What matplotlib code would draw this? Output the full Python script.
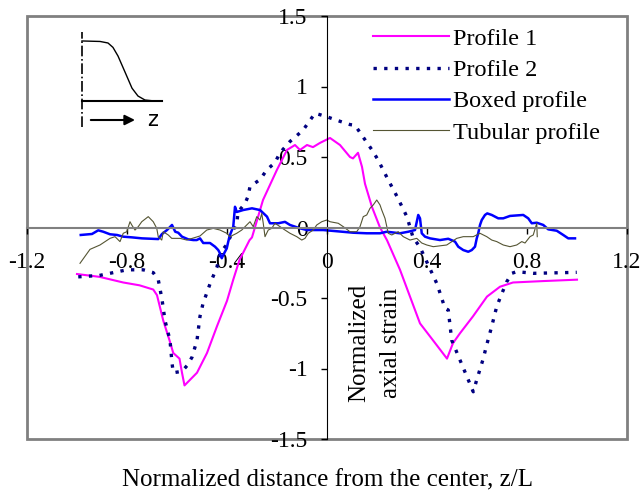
import numpy as np
import matplotlib.pyplot as plt

plt.rcParams['font.family'] = ['Liberation Serif', 'DejaVu Serif']

# Profile 1 (magenta)
p1_x = [-1.0, -0.91, -0.815, -0.75, -0.695, -0.68, -0.655, -0.63, -0.615, -0.59, -0.58, -0.57,
        -0.52, -0.48, -0.44, -0.40, -0.375, -0.35, -0.31, -0.30, -0.256, -0.20, -0.16, -0.128,
        -0.108, -0.08, -0.056, -0.028, 0.012, 0.052, 0.092, 0.104, 0.124, 0.14, 0.152, 0.18,
        0.212, 0.24, 0.292, 0.332, 0.372, 0.424, 0.48, 0.504, 0.532, 0.584, 0.64, 0.692,
        0.744, 0.864, 1.0]
p1_y = [-0.33, -0.35, -0.39, -0.41, -0.44, -0.48, -0.66, -0.80, -0.89, -0.93, -1.03, -1.12,
        -1.03, -0.89, -0.70, -0.52, -0.37, -0.23, -0.09, -0.07, 0.195, 0.41, 0.55, 0.585,
        0.55, 0.585, 0.57, 0.60, 0.635, 0.585, 0.50, 0.49, 0.53, 0.43, 0.31, 0.145,
        0.0, -0.09, -0.30, -0.49, -0.68, -0.80, -0.93, -0.82, -0.75, -0.63, -0.49, -0.42,
        -0.39, -0.38, -0.37]

# Profile 2 (navy, dotted)
p2_x = [-0.995, -0.91, -0.855, -0.80, -0.735, -0.695, -0.675, -0.66, -0.648, -0.628, -0.62,
        -0.615, -0.58, -0.56, -0.54, -0.52, -0.508, -0.496, -0.468, -0.44, -0.428, -0.40,
        -0.388, -0.36, -0.356, -0.328, -0.316, -0.308, -0.268, -0.24, -0.208, -0.188, -0.148,
        -0.096, -0.068, -0.048, -0.028, 0.0, 0.04, 0.092, 0.112, 0.18, 0.204, 0.244, 0.28,
        0.32, 0.344, 0.372, 0.44, 0.472, 0.485, 0.499, 0.585, 0.599, 0.625, 0.637, 0.659,
        0.679, 0.699, 0.719, 0.739, 0.759, 0.825, 0.999]
p2_y = [-0.35, -0.34, -0.32, -0.30, -0.30, -0.32, -0.37, -0.51, -0.66, -0.80, -0.96,
        -1.03, -1.02, -0.98, -0.92, -0.80, -0.63, -0.54, -0.40, -0.28, -0.18, -0.12,
        -0.07, 0.04, 0.11, 0.17, 0.22, 0.29, 0.34, 0.41, 0.46, 0.53, 0.61,
        0.69, 0.76, 0.81, 0.80, 0.785, 0.76, 0.73, 0.725, 0.55, 0.48, 0.34, 0.22,
        0.075, -0.07, -0.14, -0.40, -0.573, -0.585, -0.80, -1.165, -1.08, -0.93, -0.845, -0.70,
        -0.56, -0.47, -0.385, -0.325, -0.313, -0.325, -0.318]

# Boxed profile (blue)
box_x = [-0.985, -0.94, -0.915, -0.895, -0.868, -0.84, -0.815, -0.78, -0.74, -0.675, -0.66,
         -0.64, -0.62, -0.607, -0.595, -0.58, -0.555, -0.535, -0.521, -0.508, -0.495, -0.468,
         -0.448, -0.435, -0.428, -0.421, -0.415, -0.401, -0.395, -0.388, -0.375, -0.368,
         -0.361, -0.335, -0.30, -0.268, -0.24, -0.228, -0.195, -0.168, -0.148, -0.108, -0.08,
         -0.015, 0.105, 0.159, 0.212, 0.239, 0.292, 0.325, 0.352, 0.365, 0.372, 0.379, 0.392,
         0.412, 0.452, 0.485, 0.512, 0.525, 0.545, 0.565, 0.579, 0.592, 0.599, 0.605, 0.612,
         0.619, 0.632, 0.641, 0.659, 0.685, 0.705, 0.732, 0.785, 0.805, 0.819, 0.839, 0.865,
         0.885, 0.919, 0.945, 0.965, 0.992]
box_y = [-0.053, -0.046, -0.02, -0.03, -0.048, -0.053, -0.065, -0.07, -0.077, -0.082, -0.046,
         -0.018, 0.018, -0.03, -0.037, -0.065, -0.084, -0.089, -0.089, -0.077, -0.11, -0.11,
         -0.136, -0.16, -0.183, -0.218, -0.195, -0.148, -0.10, -0.053, 0.006, 0.147,
         0.11, 0.124, 0.136, 0.124, 0.077, 0.03, 0.03, 0.04, 0.018, -0.006, -0.018,
         -0.018, -0.037, -0.041, -0.041, -0.03, -0.041, -0.03, -0.018, 0.089, 0.065, -0.041, -0.065,
         -0.077, -0.089, -0.08, -0.10, -0.136, -0.16, -0.172, -0.16, -0.136, -0.077, -0.041, 0.018,
         0.053, 0.089, 0.10, 0.089, 0.065, 0.065, 0.082, 0.089, 0.065, 0.03, 0.034, 0.018,
         -0.013, -0.023, -0.053, -0.077, -0.077]

# Tubular profile (olive, thin)
tub_x = [-0.988, -0.948, -0.908, -0.868, -0.848, -0.828, -0.815, -0.801, -0.788, -0.781, -0.768,
         -0.755, -0.741, -0.715, -0.695, -0.681, -0.675, -0.661, -0.655, -0.635, -0.621, -0.588,
         -0.561, -0.508, -0.481, -0.455, -0.428, -0.401, -0.388, -0.361, -0.341, -0.321, -0.308,
         -0.295, -0.281, -0.268, -0.261, -0.255, -0.248, -0.235, -0.221, -0.208, -0.188, -0.168,
         -0.148, -0.121, -0.101, -0.088, -0.075, -0.055, -0.041, -0.021, -0.001, 0.012, 0.045,
         0.065, 0.092, 0.119, 0.132, 0.145, 0.159, 0.172, 0.185, 0.199, 0.212, 0.219, 0.232,
         0.245, 0.259, 0.285, 0.305, 0.332, 0.359, 0.379, 0.399, 0.425, 0.479, 0.519, 0.545,
         0.585, 0.612, 0.639, 0.659, 0.679, 0.705, 0.732, 0.759, 0.779, 0.792, 0.812, 0.825,
         0.839, 0.841]
tub_y = [-0.254, -0.155, -0.124, -0.077, -0.065, -0.10, -0.041, -0.03, 0.041, 0.018, -0.018,
         0.006, 0.041, 0.077, 0.041, -0.006, -0.065, -0.089, -0.03, -0.053, -0.077, -0.077,
         -0.089, -0.06, -0.018, -0.006, -0.018, -0.041, -0.065, -0.041, -0.018, 0.018, 0.041,
         0.006, 0.077, 0.053, 0.10, 0.03, -0.065, -0.018, -0.006, 0.03, 0.006, -0.018,
         -0.041, -0.065, -0.089, -0.077, -0.041, -0.018, 0.018, 0.041, 0.053, 0.041, 0.03,
         0.006, -0.03, -0.03, 0.006, 0.077, 0.089, 0.136, 0.16, 0.195, 0.16, 0.124, 0.065,
         -0.041, -0.053, -0.03, -0.065, -0.089, -0.077, -0.11, -0.124, -0.136, -0.124, -0.077, -0.065,
         -0.065, -0.041, -0.065, -0.089, -0.10, -0.124, -0.136, -0.124, -0.10, -0.11, -0.065, -0.053,
         0.03, -0.065]

# schematic in the corner (inset)
sk_x = [0.043, 0.24, 0.326, 0.38, 0.435, 0.51, 0.587, 0.652, 0.728, 0.837]
sk_y = [0.873, 0.868, 0.853, 0.81, 0.725, 0.57, 0.41, 0.333, 0.294, 0.284]

fig = plt.figure(figsize=(6.42, 4.93), dpi=100)
ax = fig.add_axes([27 / 642, 1 - 439 / 493, 600 / 642, 423 / 493])

ax.plot(p1_x, p1_y, color='#ff00ff', lw=1.5, label='Profile 1')
ax.plot(p2_x, p2_y, color='#000080', lw=2.4, linestyle=(0, (1, 2.2)), label='Profile 2')
ax.plot(box_x, box_y, color='#0000ff', lw=1.8, label='Boxed profile')
ax.plot(tub_x, tub_y, color='#555533', lw=0.8, label='Tubular profile')

ax.set_xlim(-1.2, 1.2)
ax.set_ylim(-1.5, 1.5)
ax.set_xticks(np.arange(-1.2, 1.21, 0.4))
ax.set_yticks(np.arange(-1.5, 1.51, 0.5))
ax.set_xticklabels(['-1.2', '-0.8', '-0.4', '0', '0.4', '0.8', '1.2'])
ax.set_yticklabels(['-1.5', '-1', '-0.5', '0', '0.5', '1', '1.5'])
ax.tick_params(labelsize=17, direction='out', length=4, width=1)
ax.tick_params(axis='x', pad=14)
ax.tick_params(axis='y', pad=10)

ax.spines['left'].set_position(('data', 0))
ax.spines['bottom'].set_position(('data', 0))
ax.spines['left'].set_color('black')
ax.spines['bottom'].set_color('#808080')
ax.spines['bottom'].set_linewidth(1.5)
for s in ['top', 'right']:
    ax.spines[s].set_visible(False)
# outer gray frame
ax.patch.set_edgecolor('#808080')
ax.patch.set_linewidth(2)

ax.text(0.58, 0.227, 'Normalized\naxial strain', transform=ax.transAxes, rotation=90,
        fontsize=18, ha='center', va='center', linespacing=1.6)
ax.set_xlabel('Normalized distance from the center, z/L', fontsize=18)
ax.xaxis.set_label_coords(0.5, -0.072)

ax.legend(loc='upper left', bbox_to_anchor=(0.577, 0.972), frameon=False, fontsize=17.5,
          handlelength=3.1, handletextpad=0.2, labelspacing=0.38, borderpad=0, borderaxespad=0)

# inset sketch
ins = fig.add_axes([78 / 642, 1 - 130 / 493, 92 / 642, 102 / 493])
ins.set_xlim(0, 1)
ins.set_ylim(0, 1)
ins.axis('off')
ins.plot(sk_x, sk_y, color='black', lw=1)
ins.plot([0.043, 0.043], [0.03, 0.96], color='black', lw=1.2, linestyle='-.')
ins.plot([0.043, 0.913], [0.284, 0.284], color='black', lw=1.5)
ins.annotate('', xy=(0.65, 0.098), xytext=(0.109, 0.098),
             arrowprops=dict(arrowstyle='-|>', color='black', lw=1.5, mutation_scale=15))
ins.text(0.81, 0.098, 'z', fontsize=15, family='DejaVu Sans', ha='center', va='center')

fig.savefig('out.png', dpi=100)
